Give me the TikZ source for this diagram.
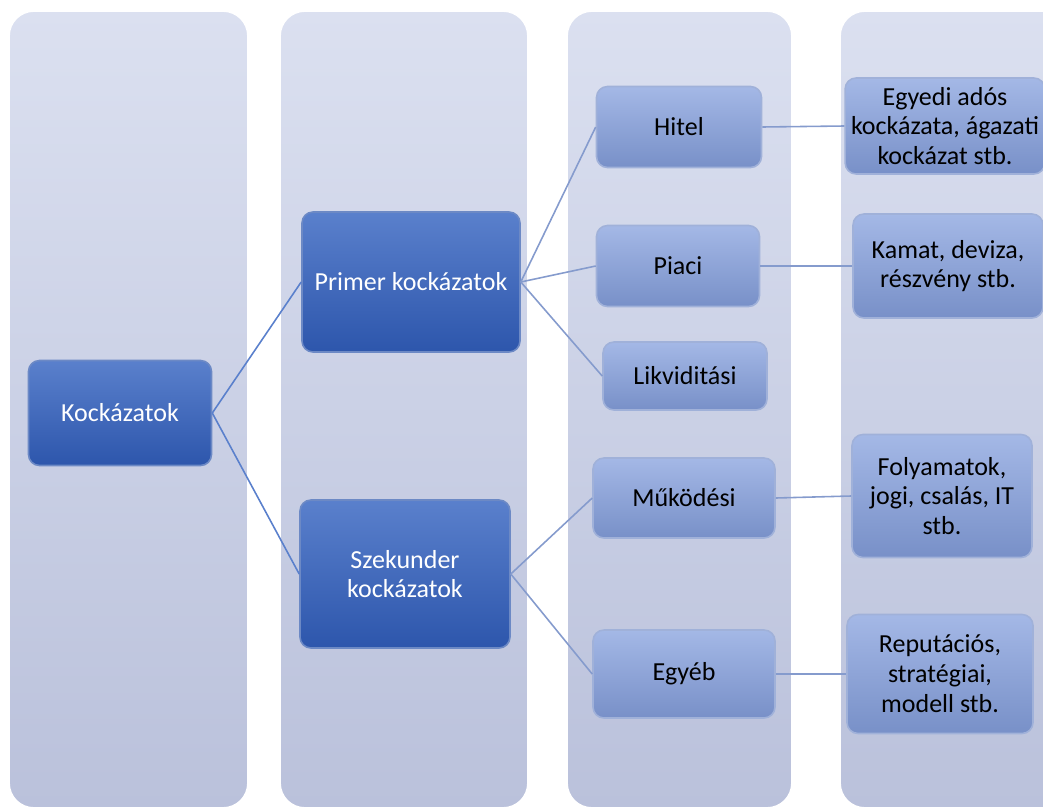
\documentclass[tikz,border=0pt]{standalone}
\usepackage{fontspec}
\setmainfont{Carlito}
\usepackage{xcolor}
\usepackage{tikz}
\usetikzlibrary{positioning}

\definecolor{colTop}{HTML}{DBE0F0}
\definecolor{colBot}{HTML}{BAC1DB}
\definecolor{darkTop}{HTML}{5A80CC}
\definecolor{darkBot}{HTML}{2D56AC}
\definecolor{lightTop}{HTML}{A4B8E6}
\definecolor{lightBot}{HTML}{7890C8}

\begin{document}
\begin{tikzpicture}[line width=0.9pt,
    column/.style={rounded corners=0.5cm, top color=colTop, bottom color=colBot,
        draw=white, line width=1pt},
    main/.style={rectangle, rounded corners=0.22cm, top color=darkTop, bottom color=darkBot,
        draw=darkBot!70!white, text=white, align=center,
        font=\fontsize{14.8}{17}\selectfont},
    sub/.style={rectangle, rounded corners=0.22cm, top color=lightTop, bottom color=lightBot,
        draw=lightBot!70!white, text=black, align=center,
        font=\fontsize{14.8}{17}\selectfont},
    link/.style={draw=darkTop},
    twig/.style={draw=lightBot!90!white}]
        \useasboundingbox (0,0) rectangle (20.86,-16.22);
        \clip (0,0) rectangle (20.86,-16.22);

        % background columns
        \path[column] (0.18,-0.22) rectangle (4.96,-16.16);
        \path[column] (5.60,-0.22) rectangle (10.56,-16.16);
        \path[column] (11.34,-0.22) rectangle (15.84,-16.16);
        \path[column] (16.80,-0.22) rectangle (21.40,-16.16);

        \node [main, minimum width=3.66cm, minimum height=2.10cm] (risk) at (2.40,-8.26) {Kockázatok};
        \node [main, minimum width=4.36cm, minimum height=2.80cm] (primer) at (8.22,-5.64) {Primer kockázatok};
        \node [main, minimum width=4.20cm, minimum height=2.96cm] (szek) at (8.10,-11.48) {Szekunder\\kockázatok};

        \node [sub, minimum width=3.30cm, minimum height=1.62cm] (hitel) at (13.58,-2.54) {Hitel};
        \node [sub, minimum width=3.26cm, minimum height=1.62cm] (piaci) at (13.56,-5.32) {Piaci};
        \node [sub, minimum width=3.28cm, minimum height=1.36cm] (likv) at (13.70,-7.52) {Likviditási};
        \node [sub, minimum width=3.64cm, minimum height=1.60cm] (mukod) at (13.68,-9.96) {Működési};
        \node [sub, minimum width=3.64cm, minimum height=1.76cm] (egyeb) at (13.68,-13.48) {Egyéb};

        \node [sub, minimum width=3.90cm, minimum height=1.92cm] (hitelx) at (18.90,-2.52) {Egyedi adós\\kockázata, ágazati\\kockázat stb.};
        \node [sub, minimum width=3.80cm, minimum height=2.08cm] (piacix) at (18.96,-5.32) {Kamat, deviza,\\részvény stb.};
        \node [sub, minimum width=3.60cm, minimum height=2.46cm] (mukodx) at (18.84,-9.92) {Folyamatok,\\jogi, csalás, IT\\stb.};
        \node [sub, minimum width=3.72cm, minimum height=2.38cm] (egyebx) at (18.80,-13.48) {Reputációs,\\stratégiai,\\modell stb.};

        \path (risk.east) edge[link] (primer.west);
        \path (risk.east) edge[link] (szek.west);
        \path (primer.east) edge[twig] (hitel.west);
        \path (primer.east) edge[twig] (piaci.west);
        \path (primer.east) edge[twig] (likv.west);
        \path (szek.east) edge[twig] (mukod.west);
        \path (szek.east) edge[twig] (egyeb.west);
        \path (hitel.east) edge[twig] (hitelx.west);
        \path (piaci.east) edge[twig] (piacix.west);
        \path (mukod.east) edge[twig] (mukodx.west);
        \path (egyeb.east) edge[twig] (egyebx.west);
    \end{tikzpicture}
\end{document}
